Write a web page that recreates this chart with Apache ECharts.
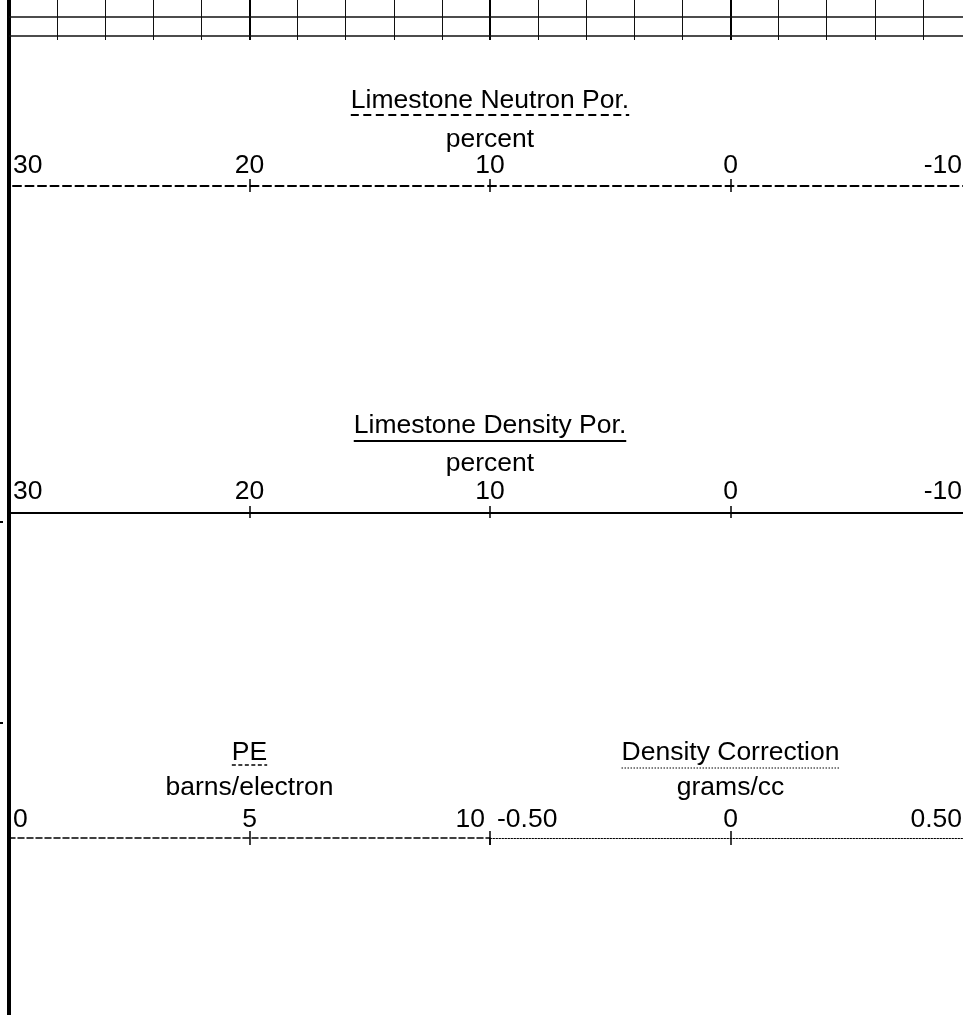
<!DOCTYPE html>
<html>
<head>
<meta charset="utf-8">
<script src="https://cdn.jsdelivr.net/npm/echarts@6/dist/echarts.min.js"></script>
<style>
  html, body { margin: 0; padding: 0; background: #fff; }
  #chart { width: 963px; height: 1015px; }
</style>
</head>
<body>
<div id="chart"></div>
<script>
// ---- Log header content ----
const curveNames = ['Limestone Neutron Por.', 'Limestone Density Por.', 'PE', 'Density Correction'];
const curveUnits = ['percent', 'percent', 'barns/electron', 'grams/cc'];
const neutronRange = [30, -10];      // left edge, right edge
const densityPorRange = [30, -10];
const peRange = [0, 10];
const densCorrRange = [-0.5, 0.5];
const scaleIntervals = [10, 10, 5, 0.5];
const gridDivisions = 20;            // minor divisions across the track
const gridMajorEvery = 5;            // heavy line every n divisions
const gridRowLines = [17, 36];       // depth lines in the strip at the top
const depthTicks = [522, 723];       // depth marks of the neighbouring track

// ---- Layout ----
const W = 963, H = 1015;
const FONT_FAMILY = '"Liberation Sans", Arial, Helvetica, sans-serif';
const FONT_SIZE = 26.5;
const trackLeft = 9;
const trackWidth = 962;              // the track runs a little past the page edge
const halfWidth = trackWidth / 2;

const chart = echarts.init(document.getElementById('chart'), null, { renderer: 'canvas' });

// one small grid per scale line: its top edge is the scale line, its height the tick below it
const sectionLayout = [
  { curve: 0, range: neutronRange,    axisY: 186, left: trackLeft, width: trackWidth, down: 6, margin: 7,
    line: { type: [8, 4.5], width: 2 }, under: { type: [8, 4.5], width: 2 },
    titleY: 101, underY: 115, unitY: 140, pad: [4, 9], fmt: v => String(v) },
  { curve: 1, range: densityPorRange, axisY: 513, left: trackLeft, width: trackWidth, down: 5, margin: 8,
    line: { type: 'solid', width: 2 }, under: { type: 'solid', width: 2 },
    titleY: 426, underY: 441, unitY: 464, pad: [4, 9], fmt: v => String(v) },
  { curve: 2, range: peRange,         axisY: 838, left: trackLeft, width: halfWidth, down: 7, margin: 5,
    line: { type: [6, 3], width: 1.5 }, under: { type: [4, 2.5], width: 1.5 },
    titleY: 753, underY: 765, unitY: 788, pad: [4, 5], fmt: v => String(v) },
  { curve: 3, range: densCorrRange,   axisY: 838, left: trackLeft + halfWidth, width: halfWidth, down: 7, margin: 5,
    line: { type: [1.5, 1.5], width: 1 }, under: { type: [1.5, 1.5], width: 1 },
    titleY: 753, underY: 768, unitY: 788, pad: [7, 9], fmt: v => (v === 0 ? '0' : v.toFixed(2)) }
];

const gridBase = { containLabel: false, outerBoundsMode: 'none' };
const grids = [
  Object.assign({ left: trackLeft, width: trackWidth, top: 0, bottom: 0 }, gridBase),   // track frame
  Object.assign({ left: trackLeft, width: trackWidth, top: 0, height: 40 }, gridBase)   // grid strip
];
const xAxes = [
  { gridIndex: 0, type: 'value', min: 0, max: 1, show: false },
  { gridIndex: 1, type: 'value', min: 0, max: gridDivisions, interval: 1, position: 'bottom',
    axisLine: { show: false }, axisTick: { show: false }, axisLabel: { show: false },
    splitLine: { show: true, lineStyle: { color: '#111', width: 1 } } },
  { gridIndex: 1, type: 'value', min: 0, max: gridDivisions, interval: gridMajorEvery, position: 'bottom',
    axisLine: { show: false }, axisTick: { show: false }, axisLabel: { show: false },
    splitLine: { show: true, lineStyle: { color: '#000', width: 2 } } }
];
const yAxes = [
  { gridIndex: 0, type: 'value', min: 0, max: H, inverse: true, position: 'left',
    axisLine: { show: true, onZero: false, lineStyle: { color: '#000', width: 4 } },
    axisTick: { show: false }, axisLabel: { show: false }, splitLine: { show: false } },
  { gridIndex: 0, type: 'value', min: 0, max: H, inverse: true, position: 'left', offset: 6,
    axisLine: { show: false, onZero: false },
    axisTick: { show: true, customValues: depthTicks, length: 3, lineStyle: { color: '#000', width: 2 } },
    axisLabel: { show: false }, splitLine: { show: false } },
  { gridIndex: 1, type: 'value', min: 0, max: 40, inverse: true, show: false }
];
const series = [
  { type: 'line', xAxisIndex: 1, yAxisIndex: 2, data: [], silent: true,
    markLine: {
      silent: true, symbol: ['none', 'none'], label: { show: false },
      lineStyle: { type: 'solid', color: '#111', width: 1.5 },
      data: gridRowLines.map(v => ({ yAxis: v }))
    } }
];

sectionLayout.forEach(s => {
  const gi = grids.length;
  grids.push(Object.assign({ left: s.left, width: s.width, top: s.axisY, height: s.down }, gridBase));
  const lo = Math.min(s.range[0], s.range[1]);
  const hi = Math.max(s.range[0], s.range[1]);
  const leftVal = s.range[0], rightVal = s.range[1];
  const inv = s.range[0] > s.range[1];
  const xi = xAxes.length, yi = yAxes.length;
  xAxes.push({
    gridIndex: gi, type: 'value', position: 'top',
    min: lo, max: hi, interval: scaleIntervals[s.curve], inverse: inv,
    axisLine: { show: true, onZero: false, lineStyle: { color: '#000', width: s.line.width, type: s.line.type } },
    axisTick: { show: true, inside: false, length: 7, lineStyle: { color: '#000', width: 1.5 } },
    splitLine: { show: true, lineStyle: { color: '#000', width: 1.5 } },
    axisLabel: {
      show: true, margin: s.margin, color: '#000', fontFamily: FONT_FAMILY, fontSize: FONT_SIZE,
      hideOverlap: false,
      alignMinLabel: inv ? 'right' : 'left',
      alignMaxLabel: inv ? 'left' : 'right',
      formatter: v => {
        const t = s.fmt(v);
        if (v === leftVal) return '{l|' + t + '}';
        if (v === rightVal) return '{r|' + t + '}';
        return '{c|' + t + '}';
      },
      rich: {
        l: { fontFamily: FONT_FAMILY, fontSize: FONT_SIZE, color: '#000', padding: [0, 0, 0, s.pad[0]] },
        r: { fontFamily: FONT_FAMILY, fontSize: FONT_SIZE, color: '#000', padding: [0, s.pad[1], 0, 0] },
        c: { fontFamily: FONT_FAMILY, fontSize: FONT_SIZE, color: '#000' }
      }
    }
  });
  yAxes.push({ gridIndex: gi, type: 'value', min: 0, max: 1, show: false });
  series.push({ type: 'line', xAxisIndex: xi, yAxisIndex: yi, data: [], silent: true });
  s.xAxisIndex = xi;
});

chart.setOption({
  animation: false,
  backgroundColor: '#fff',
  grid: grids,
  xAxis: xAxes,
  yAxis: yAxes,
  series: series
});

// ---- curve titles, units and line-style samples ----
const measureCtx = document.createElement('canvas').getContext('2d');
measureCtx.font = FONT_SIZE + 'px ' + FONT_FAMILY;

const graphics = [];
sectionLayout.forEach(s => {
  const mid = (s.range[0] + s.range[1]) / 2;
  const cx = chart.convertToPixel({ xAxisIndex: s.xAxisIndex }, mid);
  const name = curveNames[s.curve];
  const unit = curveUnits[s.curve];
  const w = measureCtx.measureText(name).width;
  graphics.push({
    type: 'text', x: cx, y: s.titleY, silent: true,
    style: { text: name, fill: '#000', fontFamily: FONT_FAMILY, fontSize: FONT_SIZE, align: 'center', verticalAlign: 'middle' }
  });
  graphics.push({
    type: 'line', silent: true,
    shape: { x1: cx - w / 2, y1: s.underY, x2: cx + w / 2, y2: s.underY },
    style: { stroke: '#000', lineWidth: s.under.width, lineDash: s.under.type === 'solid' ? null : s.under.type }
  });
  graphics.push({
    type: 'text', x: cx, y: s.unitY, silent: true,
    style: { text: unit, fill: '#000', fontFamily: FONT_FAMILY, fontSize: FONT_SIZE, align: 'center', verticalAlign: 'middle' }
  });
});
chart.setOption({ graphic: graphics });
</script>
</body>
</html>
